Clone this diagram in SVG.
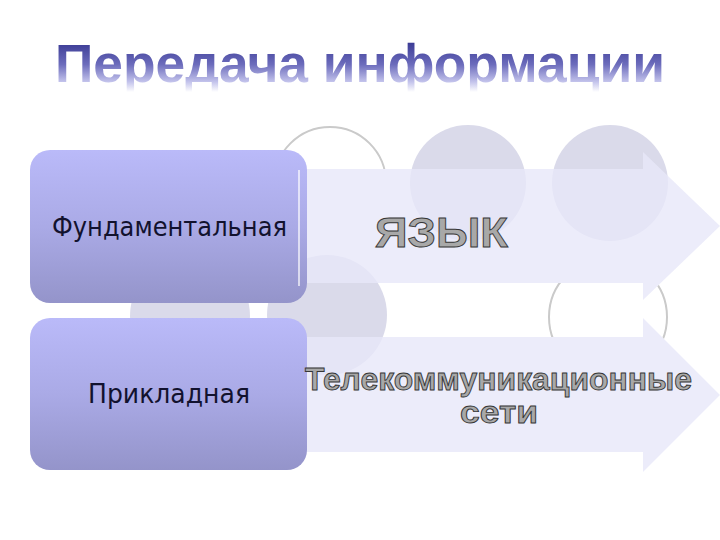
<svg xmlns="http://www.w3.org/2000/svg" width="720" height="540" viewBox="0 0 720 540">
<defs>
<linearGradient id="titleGrad" gradientUnits="userSpaceOnUse" x1="0" y1="42" x2="0" y2="92">
<stop offset="0" stop-color="#3a3a94"/>
<stop offset="0.45" stop-color="#6c6cbc"/>
<stop offset="0.8" stop-color="#c4c4ec"/>
<stop offset="1" stop-color="#ffffff"/>
</linearGradient>
<linearGradient id="boxGrad" x1="0" y1="0" x2="0" y2="1">
<stop offset="0" stop-color="#babaf9"/>
<stop offset="0.5" stop-color="#aaaae6"/>
<stop offset="1" stop-color="#9494ca"/>
</linearGradient>
<clipPath id="outsideArrows">
<path clip-rule="evenodd" d="M0,0 H720 V540 H0 Z M290,169 H643 V152 L720,226 L643,300 V283 H290 Z M290,337 H643 V318 L720,395 L643,472 V452 H290 Z"/>
</clipPath>
<style>
.disc{fill:#dadaea;}
.ring{fill:none;stroke:#cacaca;stroke-width:2;}
.arrow{fill:#e7e7f9;fill-opacity:0.8;}
.box{fill:url(#boxGrad);}
.boxtext{font-family:"DejaVu Sans","Noto Sans",sans-serif;font-size:27px;fill:#12122e;text-anchor:start;}
.label{font-family:"Liberation Sans",Arial,sans-serif;font-weight:bold;fill:#a8a8a8;stroke:#363636;stroke-width:0.9;}
.title{font-family:"Liberation Sans",Arial,sans-serif;font-weight:bold;font-size:54px;fill:url(#titleGrad);}
</style>
</defs>
<rect width="720" height="540" fill="#ffffff"/>
<text class="title" x="55" y="82" textLength="610" lengthAdjust="spacingAndGlyphs">Передача информации</text>
<g id="decor">
<g clip-path="url(#outsideArrows)">
<circle class="ring" cx="330" cy="183" r="56"/>
<circle class="ring" cx="608" cy="317" r="59"/>
</g>
<circle class="disc" cx="468" cy="183" r="58"/>
<circle class="disc" cx="610" cy="183" r="58"/>
<circle class="disc" cx="190" cy="316" r="60"/>
<circle class="disc" cx="327" cy="315" r="60"/>
</g>
<g id="connectors">
<polygon id="arrow-lang" class="arrow" points="290,169 643,169 643,152 720,226 643,300 643,283 290,283"/>
<polygon id="arrow-telecom" class="arrow" points="290,337 643,337 643,318 720,395 643,472 643,452 290,452"/>
</g>
<g id="node-fundamental">
<rect class="box" x="30" y="150" width="277" height="153" rx="20" ry="20"/>
<line x1="299" y1="170" x2="299" y2="286" stroke="#ffffff" stroke-opacity="0.85" stroke-width="1.5"/>
<text class="boxtext" x="52" y="236" textLength="235" lengthAdjust="spacingAndGlyphs">Фундаментальная</text>
</g>
<g id="node-applied">
<rect class="box" x="30" y="318" width="277" height="152" rx="20" ry="20"/>
<text class="boxtext" x="88" y="403" textLength="162" lengthAdjust="spacingAndGlyphs">Прикладная</text>
</g>
<g id="label-lang">
<text class="label" x="375" y="247" font-size="42" textLength="133" lengthAdjust="spacingAndGlyphs">ЯЗЫК</text>
</g>
<g id="label-telecom">
<text class="label" x="305" y="390" font-size="31" textLength="387" lengthAdjust="spacingAndGlyphs">Телекоммуникационные</text>
<text class="label" x="460" y="423" font-size="31" textLength="78" lengthAdjust="spacingAndGlyphs">сети</text>
</g>
</svg>
